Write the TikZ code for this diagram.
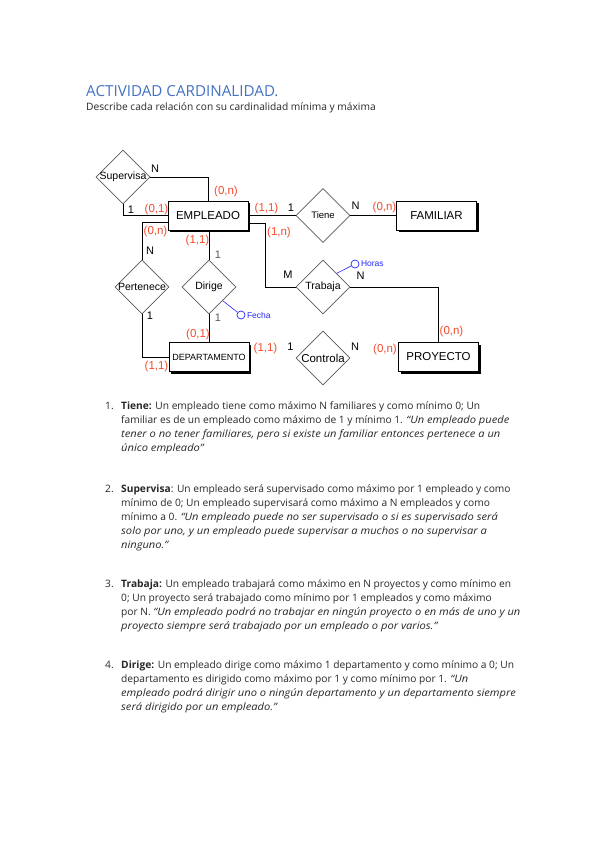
\documentclass[tikz,border=0pt]{standalone}
\usepackage{fontspec}
\setmainfont{Open Sans}
\newfontfamily\erfont{Liberation Sans}
\usetikzlibrary{shapes.geometric,shadows,positioning}
\definecolor{TitleBlue}{RGB}{68,114,196}
\definecolor{CardRed}{RGB}{245,75,45}
\definecolor{AttrBlue}{RGB}{40,40,250}
\definecolor{RelGray}{RGB}{90,90,90}
\definecolor{TextGray}{RGB}{40,40,40}
\newcommand{\quoteit}[1]{{\itshape\addfontfeature{FakeStretch=1.09}#1}}
\tikzset{
  entity/.style={draw=black, fill=white, line width=0.8pt, minimum width=80pt,
    minimum height=29pt, inner sep=0pt, font=\erfont\fontsize{11.5}{12}\selectfont,
    drop shadow={shadow xshift=2.2pt, shadow yshift=-2.2pt, fill=black, opacity=1}},
  relation/.style={diamond, draw=RelGray, line width=0.6pt, minimum width=54pt,
    minimum height=54pt, inner sep=0pt},
  reltext/.style={font=\erfont\fontsize{10.5}{11}\selectfont, inner sep=0pt},
  card/.style={text=CardRed, font=\erfont\fontsize{11.5}{12}\selectfont, inner sep=0pt},
  mult/.style={font=\erfont\fontsize{11}{12}\selectfont, inner sep=0pt},
  attr/.style={circle, draw=AttrBlue, line width=0.7pt, minimum size=8pt, inner sep=0pt},
  attrtext/.style={text=AttrBlue, font=\erfont\fontsize{8.5}{9}\selectfont,
    inner sep=0pt, anchor=west, xshift=1.5pt},
  link/.style={draw=black, line width=0.8pt},
  attrlink/.style={draw=AttrBlue, line width=0.6pt},
  item/.style={anchor=north west, inner sep=0pt, align=left,
    font=\fontsize{10.2}{14}\selectfont, text=TextGray},
  itemnum/.style={anchor=north west, inner sep=0pt,
    font=\fontsize{10.2}{14}\selectfont, text=TextGray}
}

\begin{document}
\begin{tikzpicture}[x=1pt, y=-1pt]
  \useasboundingbox[fill=white] (0,0) rectangle (600,848);

  % title
  \node[anchor=west, inner sep=0pt, text=TitleBlue, font=\fontsize{15.2}{18}\selectfont] (title) at (86,91) {ACTIVIDAD CARDINALIDAD.};
  \node[anchor=west, inner sep=0pt, text=TextGray, font=\fontsize{10.2}{12}\selectfont] (subtitle) at (86,108) {Describe cada relación con su cardinalidad mínima y máxima};

  % entities
  \node[entity] (empleado) at (208,215.5) {EMPLEADO};
  \node[entity] (familiar) at (436.5,215.5) {FAMILIAR};
  \node[entity, font=\erfont\fontsize{9}{10}\selectfont] (departamento) at (209,357) {DEPARTAMENTO};
  \node[entity] (proyecto) at (438.5,357) {PROYECTO};

  % relations
  \node[relation, label={[reltext]center:Supervisa}] (supervisa) at (123,177) {};
  \node[relation, label={[reltext]center:Pertenece}] (pertenece) at (142,287) {};
  \node[relation, label={[reltext]center:Dirige}] (dirige) at (209,287) {};
  \node[relation, label={[reltext, font=\erfont\fontsize{9.5}{10}\selectfont]center:Tiene}] (tiene) at (323,215.5) {};
  \node[relation, label={[reltext]center:Trabaja}] (trabaja) at (323,287) {};
  \node[relation, label={[reltext, font=\erfont\fontsize{11.5}{12}\selectfont]center:Controla}] (controla) at (323,358) {};

  % attributes
  \node[attr] (fecha) at (241,315) {};
  \node[attrtext] (fechatext) at (fecha.east) {Fecha};
  \node[attr] (horas) at (355,264) {};
  \node[attrtext] (horastext) at (horas.east) {Horas};
  \draw[attrlink] (dirige.south east) -- (fecha);
  \draw[attrlink] (trabaja.north east) -- (horas);

  % connectors
  \coordinate (bend) at (265,287);
  \draw[link] (supervisa.east) -| (empleado.north);
  \draw[link] (supervisa.south) |- (empleado.west);
  \draw[link] ([yshift=-6.5pt]empleado.west) -| (pertenece.north);
  \draw[link] (pertenece.south) |- (departamento.west);
  \draw[link] (dirige.north |- empleado.south) -- (dirige.north);
  \draw[link] (dirige.south) -- (dirige.south |- departamento.north);
  \draw[link] (empleado.east) -- (tiene.west);
  \draw[link] (tiene.east) -- (familiar.west);
  \draw[link] ([yshift=-8pt]empleado.east) -| (bend) -- (trabaja.west);
  \draw[link] (trabaja.east) -| (proyecto.north);

  % cardinalities
  \node[card] (c1) at (226,192) {(0,n)};
  \node[card] (c2) at (156.5,209.5) {(0,1)};
  \node[card] (c3) at (155.5,232) {(0,n)};
  \node[card] (c4) at (197.5,240.5) {(1,1)};
  \node[card] (c5) at (198,334.5) {(0,1)};
  \node[card] (c6) at (156.5,366.5) {(1,1)};
  \node[card] (c7) at (265.5,349) {(1,1)};
  \node[card] (c8) at (266.5,208.5) {(1,1)};
  \node[card] (c9) at (384.5,208) {(0,n)};
  \node[card] (c10) at (279,233) {(1,n)};
  \node[card] (c11) at (451.5,332) {(0,n)};
  \node[card] (c12) at (385,350) {(0,n)};

  % multiplicities
  \node[mult] (m1) at (155,169) {N};
  \node[mult] (m2) at (131,210) {1};
  \node[mult] (m3) at (150,251) {N};
  \node[mult, text=RelGray] (m4) at (218,255) {1};
  \node[mult] (m5) at (150,316) {1};
  \node[mult, text=RelGray] (m6) at (218,318) {1};
  \node[mult] (m7) at (291,207.5) {1};
  \node[mult] (m8) at (355.5,206) {N};
  \node[mult] (m9) at (288,274.5) {M};
  \node[mult] (m10) at (360.5,276) {N};
  \node[mult] (m11) at (290.5,347) {1};
  \node[mult] (m12) at (355,347) {N};

  % list
  \node[itemnum] (n1) at (105,399.2) {\strut 1.};
  \node[item] (t1) at (121,399.2) {\strut\textbf{Tiene:} Un empleado tiene como máximo N familiares y como mínimo 0; Un\\
    familiar es de un empleado como máximo de 1 y mínimo 1. \quoteit{“Un empleado puede}\\
    \quoteit{tener o no tener familiares, pero si existe un familiar entonces pertenece a un}\\
    \quoteit{único empleado”}};
  \node[itemnum] (n2) at (105,482.2) {\strut 2.};
  \node[item] (t2) at (121,482.2) {\strut\textbf{Supervisa}: Un empleado será supervisado como máximo por 1 empleado y como\\
    mínimo de 0; Un empleado supervisará como máximo a N empleados y como\\
    mínimo a 0. \quoteit{“Un empleado puede no ser supervisado o si es supervisado será}\\
    \quoteit{solo por uno, y un empleado puede supervisar a muchos o no supervisar a}\\
    \quoteit{ninguno.”}};
  \node[itemnum] (n3) at (105,577.2) {\strut 3.};
  \node[item] (t3) at (121,577.2) {\strut\textbf{Trabaja:} Un empleado trabajará como máximo en N proyectos y como mínimo en\\
    0; Un proyecto será trabajado como mínimo por 1 empleados y como máximo\\
    por N. \quoteit{“Un empleado podrá no trabajar en ningún proyecto o en más de uno y un}\\
    \quoteit{proyecto siempre será trabajado por un empleado o por varios.”}};
  \node[itemnum] (n4) at (105,658.2) {\strut 4.};
  \node[item] (t4) at (121,658.2) {\strut\textbf{Dirige:} Un empleado dirige como máximo 1 departamento y como mínimo a 0; Un\\
    departamento es dirigido como máximo por 1 y como mínimo por 1. \quoteit{“Un}\\
    \quoteit{empleado podrá dirigir uno o ningún departamento y un departamento siempre}\\
    \quoteit{será dirigido por un empleado.”}};
\end{tikzpicture}
\end{document}
